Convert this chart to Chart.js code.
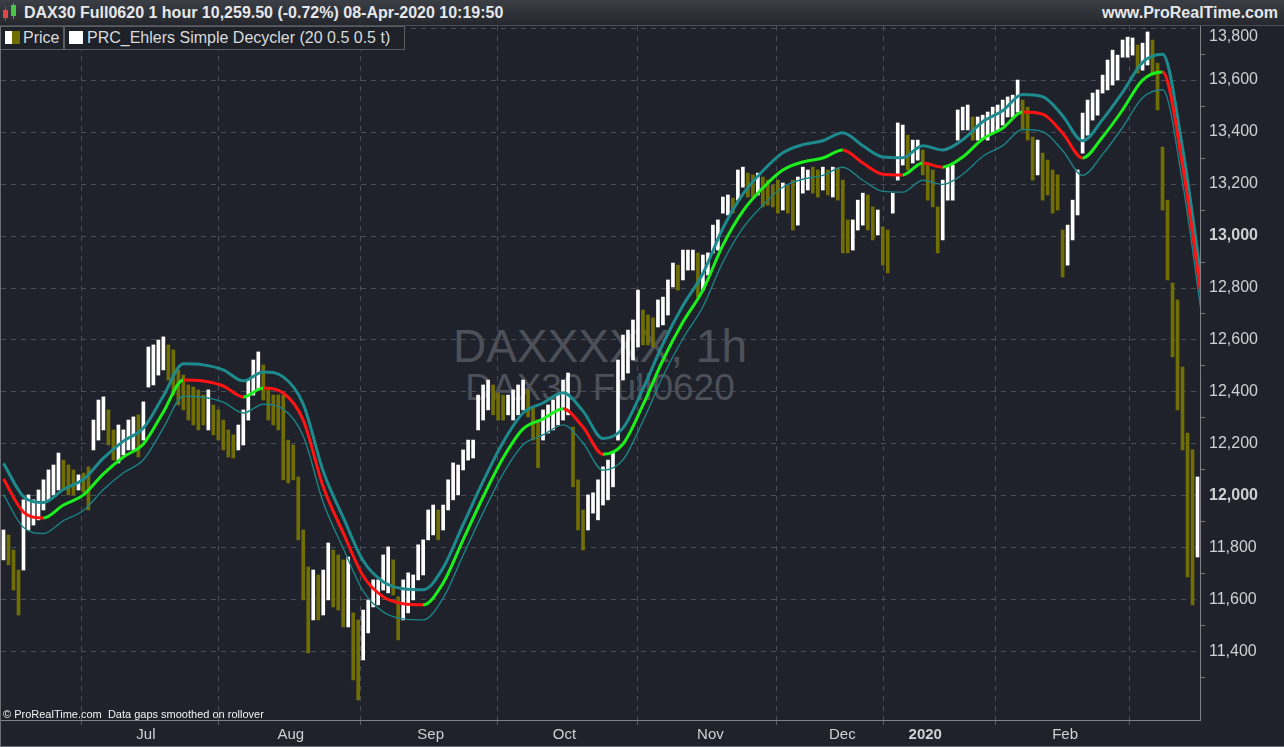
<!DOCTYPE html>
<html>
<head>
<meta charset="utf-8">
<script src="https://cdn.jsdelivr.net/npm/chart.js@4.4.1/dist/chart.umd.min.js"></script>
<style>
  html, body { margin: 0; padding: 0; background: #1f222a; }
  body { width: 1284px; height: 747px; position: relative; overflow: hidden; font-family: "Liberation Sans", Arial, sans-serif; }
  #wrap { position: absolute; left: 0; top: 0; width: 1284px; height: 747px; z-index: 1; }
  .mark { position: absolute; left: 0; width: 1200px; text-align: center; color: #4d5058; z-index: 0; white-space: nowrap; line-height: 1; }
  #header { position: absolute; left: 0; top: 0; width: 1284px; height: 25px; z-index: 2;
            background: linear-gradient(#3b3e45, #25272d); border-bottom: 1px solid #4b4e55; }
  #title { position: absolute; left: 24px; top: 0; line-height: 25px; font-weight: bold; font-size: 16px; color: #e6e8ec; white-space: nowrap; }
  #site { position: absolute; right: 6px; top: 0; line-height: 25px; font-weight: bold; font-size: 16px; color: #e6e8ec; }
  .cndl { position: absolute; }
  .lg { position: absolute; top: 26px; height: 22px; border: 1px solid #595c63; background: #1e2128; z-index: 2;
        font-size: 16px; line-height: 22px; color: #d9dadc; white-space: nowrap; }
  .lg i { position: absolute; top: 4px; height: 13px; }
  #copy { position: absolute; left: 3px; top: 707px; font-size: 11px; line-height: 14px; color: #f2f2f2; z-index: 2; white-space: nowrap; }
  #frame { position: absolute; left: 0; top: 26px; width: 1283px; height: 720px; border-left: 1px solid #6c6e73; border-bottom: 1px solid #6c6e73; z-index: 2; pointer-events: none; }
</style>
</head>
<body>
<div class="mark" style="top:323px;font-size:46px;">DAXXXXX, 1h</div>
<div class="mark" style="top:369px;font-size:37px;">DAX30 Full0620</div>

<div id="wrap"><canvas id="chart" width="1284" height="747"></canvas></div>

<div id="header">
  <div class="cndl" style="left:5px;top:7px;width:1px;height:14px;background:#c84040"></div>
  <div class="cndl" style="left:3px;top:10px;width:5px;height:8px;background:#e04848"></div>
  <div class="cndl" style="left:13px;top:3px;width:1px;height:16px;background:#3fae3f"></div>
  <div class="cndl" style="left:11px;top:5px;width:5px;height:11px;background:#49c449"></div>
  <span id="title">DAX30 Full0620 1 hour 10,259.50 (-0.72%) 08-Apr-2020 10:19:50</span>
  <span id="site">www.ProRealTime.com</span>
</div>

<div class="lg" style="left:0px;width:62px;">
  <i style="left:4px;width:7px;background:#ffffff"></i><i style="left:11px;width:8px;background:#6f6c00"></i>
  <span style="position:absolute;left:22px;">Price</span>
</div>
<div class="lg" style="left:64px;width:339px;">
  <i style="left:4px;width:14px;background:#ffffff"></i>
  <span style="position:absolute;left:22px;">PRC_Ehlers Simple Decycler (20 0.5 0.5 t)</span>
</div>

<div id="copy">© ProRealTime.com&nbsp; Data gaps smoothed on rollover</div>
<div id="frame"></div>

<script>
// hourly price ranges, one slot per ~5px of the chart (bar index 0..239)
const highs = [
  11869, 11850, 11792, 11715, 11985, 12004, 11985, 12023, 12062, 12100,
  12119, 12165, 12138, 12119, 12100, 12081, 12088, 12112, 12292, 12369,
  12381, 12331, 12254, 12273, 12254, 12292, 12304, 12312, 12362, 12573,
  12581, 12600, 12612, 12581, 12562, 12485, 12465, 12427, 12419, 12408,
  12388, 12408, 12350, 12331, 12292, 12254, 12235, 12273, 12331, 12446,
  12523, 12554, 12504, 12408, 12388, 12388, 12388, 12215, 12196, 12073,
  11869, 11727, 11715, 11696, 11715, 11819, 11792, 11773, 11754, 11765,
  11550, 11523, 11561, 11600, 11677, 11677, 11773, 11804, 11754, 11612,
  11677, 11704, 11696, 11812, 11831, 11946, 11965, 11946, 11965, 12062,
  12127, 12119, 12177, 12215, 12215, 12388, 12427, 12446, 12427, 12396,
  12388, 12388, 12408, 12427, 12446, 12408, 12342, 12292, 12331, 12350,
  12369, 12388, 12446, 12473, 12265, 12062, 11946, 12004, 12012, 12062,
  12112, 12138, 12165, 12523, 12619, 12638, 12677, 12792, 12715, 12696,
  12685, 12754, 12765, 12831, 12896, 12888, 12946, 12946, 12946, 12935,
  12927, 12935, 13042, 13062, 13150, 13158, 13146, 13254, 13265, 13242,
  13235, 13242, 13227, 13215, 13196, 13215, 13204, 13196, 13215, 13227,
  13265, 13254, 13265, 13254, 13265, 13254, 13265, 13262, 13215, 13062,
  13062, 13138, 13165, 13158, 13112, 13100, 13035, 13023, 13165, 13435,
  13427, 13388, 13369, 13369, 13331, 13281, 13254, 13112, 13215, 13265,
  13273, 13485, 13496, 13504, 13458, 13458, 13465, 13477, 13496, 13504,
  13523, 13535, 13542, 13600, 13523, 13496, 13381, 13369, 13319, 13292,
  13254, 13235, 13023, 13042, 13138, 13254, 13473, 13523, 13550, 13562,
  13619, 13677, 13715, 13696, 13754, 13765, 13762, 13735, 13742, 13785,
  13754, 13665, 13342, 13138, 12819, 12754, 12496, 12242, 12177, 12073
];
const lows = [
  11754, 11735, 11638, 11542, 11715, 11869, 11888, 11908, 11946, 11985,
  12004, 12023, 12023, 12004, 12004, 12023, 12015, 11946, 12177, 12215,
  12254, 12196, 12138, 12127, 12158, 12177, 12177, 12150, 12215, 12419,
  12427, 12465, 12485, 12446, 12388, 12350, 12331, 12292, 12273, 12254,
  12273, 12254, 12235, 12215, 12177, 12150, 12146, 12177, 12196, 12292,
  12388, 12408, 12369, 12292, 12273, 12254, 12062, 12050, 12062, 11831,
  11600, 11396, 11523, 11523, 11542, 11600, 11573, 11561, 11496, 11496,
  11292, 11215, 11369, 11473, 11573, 11581, 11638, 11627, 11619, 11446,
  11523, 11550, 11600, 11677, 11696, 11831, 11850, 11831, 11869, 11946,
  11985, 12004, 12100, 12138, 12146, 12254, 12292, 12331, 12312, 12292,
  12292, 12312, 12292, 12312, 12331, 12304, 12215, 12108, 12215, 12242,
  12254, 12273, 12292, 12312, 12035, 11869, 11792, 11869, 11934, 11908,
  11965, 11985, 12035, 12215, 12446, 12473, 12523, 12573, 12581, 12581,
  12573, 12650, 12658, 12696, 12804, 12792, 12831, 12869, 12869, 12765,
  12792, 12850, 12935, 12946, 13088, 13081, 13088, 13138, 13188, 13150,
  13150, 13158, 13112, 13119, 13112, 13088, 13100, 13088, 13023, 13042,
  13165, 13177, 13165, 13150, 13177, 13158, 13150, 13138, 12935, 12935,
  12946, 13023, 13042, 13023, 12985, 13004, 12888, 12858, 13088, 13215,
  13273, 13254, 13281, 13292, 13235, 13138, 13112, 12935, 12985, 13138,
  13138, 13369, 13408, 13408, 13369, 13369, 13377, 13369, 13396, 13408,
  13427, 13458, 13458, 13477, 13408, 13369, 13215, 13235, 13138, 13158,
  13088, 13100, 12842, 12888, 12985, 13081, 13319, 13388, 13446, 13465,
  13550, 13562, 13581, 13600, 13688, 13688, 13696, 13627, 13638, 13658,
  13619, 13485, 13100, 12831, 12535, 12331, 12177, 11688, 11581, 11765
];
// Ehlers simple decycler, one value every 4 bars
const DEC_STEP = 4;
const decycler = [
  12065, 11938, 11915, 11965, 12004, 12085, 12150, 12200, 12323, 12446,
  12442, 12423, 12381, 12415, 12396, 12292, 12035, 11858, 11692, 11612,
  11585, 11581, 11665, 11831, 11996, 12146, 12258, 12296, 12335, 12265,
  12160, 12200, 12350, 12523, 12669, 12792, 12965, 13096, 13185, 13254,
  13285, 13300, 13331, 13281, 13238, 13235, 13281, 13265, 13304, 13373,
  13415, 13477, 13469, 13396, 13300, 13381, 13485, 13600, 13631, 13273,
  12735
];
const UPPER_PCT = 0.5;
const LOWER_PCT = 0.5;
// month boundaries (bar index) and their labels
const monthBars = [2.9, 28.5, 57.5, 85.5, 112.3, 141.5, 167.9, 184.5, 212.5, 238.1];
const monthLabels = ['', 'Jul', 'Aug', 'Sep', 'Oct', 'Nov', 'Dec', '2020', 'Feb', ''];
const priceMin = 11138;
const priceMax = 13808;

const UP = '#ffffff', DOWN = '#716f04';
const GREEN = '#1cf01c', RED = '#ff1414', TEAL = '#1d8b8e';
const GRID = '#4a4e57', AXIS = '#808288', TXT = '#cfd0d3';
const FONT = '"Liberation Sans", Arial, sans-serif';

const bars = highs.map((h, i) => ({ x: i, y: [lows[i], h] }));
const barColors = highs.map((h, i) =>
    (i === 0 || h + lows[i] >= highs[i - 1] + lows[i - 1]) ? UP : DOWN);
const decPts = decycler.map((v, k) => ({ x: k * DEC_STEP, y: v }));
const upperPts = decycler.map((v, k) => ({ x: k * DEC_STEP, y: v * (1 + UPPER_PCT / 100) }));
const lowerPts = decycler.map((v, k) => ({ x: k * DEC_STEP, y: v * (1 - LOWER_PCT / 100) }));

const yTicks = [];
for (let v = 11300; v <= 13800; v += 100) yTicks.push(v);
const yTop = yTicks[yTicks.length - 1];

// the top price label sits just below its grid line, under the legend row
const topLabel = {
    id: 'topLabel',
    afterDraw(chart) {
        const y = chart.scales.y;
        const ctx = chart.ctx;
        ctx.save();
        ctx.font = '16px ' + FONT;
        ctx.fillStyle = TXT;
        ctx.textBaseline = 'middle';
        ctx.fillText(yTop.toLocaleString('en-US'), y.left + 9, y.getPixelForValue(yTop) + 9);
        ctx.restore();
    }
};

new Chart(document.getElementById('chart').getContext('2d'), {
    type: 'bar',
    data: {
        datasets: [
            {
                type: 'line', label: 'Decycler', data: decPts, order: 1,
                borderWidth: 3, pointRadius: 0, cubicInterpolationMode: 'monotone',
                borderColor: GREEN,
                segment: { borderColor: c => c.p1.parsed.y >= c.p0.parsed.y ? GREEN : RED }
            },
            {
                type: 'line', label: 'Upper', data: upperPts, order: 2,
                borderWidth: 3, pointRadius: 0, cubicInterpolationMode: 'monotone', borderColor: TEAL
            },
            {
                type: 'line', label: 'Lower', data: lowerPts, order: 3,
                borderWidth: 1.4, pointRadius: 0, cubicInterpolationMode: 'monotone', borderColor: '#1b8285'
            },
            {
                type: 'bar', label: 'Price', data: bars, order: 10,
                backgroundColor: barColors, borderWidth: 0, barThickness: 3, grouped: false
            }
        ]
    },
    options: {
        responsive: false,
        animation: false,
        devicePixelRatio: 1,
        layout: { padding: { top: 26, left: 1, right: 0, bottom: 0 } },
        plugins: { legend: { display: false }, tooltip: { enabled: false }, title: { display: false } },
        scales: {
            x: {
                type: 'linear', min: -0.5, max: 239.5, offset: false,
                afterBuildTicks: s => { s.ticks = monthBars.map(v => ({ value: v })); },
                afterFit: s => { s.height = 27; },
                ticks: {
                    autoSkip: false, maxRotation: 0, padding: 1, color: TXT,
                    font: c => ({ family: FONT, size: 15, weight: monthLabels[c.index] === '2020' ? 'bold' : 'normal' }),
                    callback: (v, i) => monthLabels[i]
                },
                grid: { color: GRID, tickLength: 5, tickColor: '#5d6068', tickBorderDash: [] },
                border: { display: true, color: AXIS, width: 1, dash: [5, 5] }
            },
            y: {
                type: 'linear', position: 'right', min: priceMin, max: priceMax,
                afterBuildTicks: s => { s.ticks = yTicks.map(v => ({ value: v })); },
                afterFit: s => { s.width = 84; },
                ticks: {
                    autoSkip: false, padding: 4, color: TXT,
                    font: c => ({ family: FONT, size: 16, weight: (c.tick && c.tick.value % 1000 === 0) ? 'bold' : 'normal' }),
                    callback: v => (v % 200 === 0 && v >= 11400 && v < yTop) ? v.toLocaleString('en-US') : ''
                },
                grid: {
                    color: c => (c.tick && c.tick.value % 200 === 0) ? GRID : 'rgba(0,0,0,0)',
                    tickLength: 5, tickBorderDash: [],
                    tickColor: c => (c.tick && c.tick.value % 200 !== 0) ? AXIS : 'rgba(0,0,0,0)'
                },
                border: { display: true, color: AXIS, width: 1, dash: [5, 5] }
            }
        }
    },
    plugins: [topLabel]
});
</script>
</body>
</html>
